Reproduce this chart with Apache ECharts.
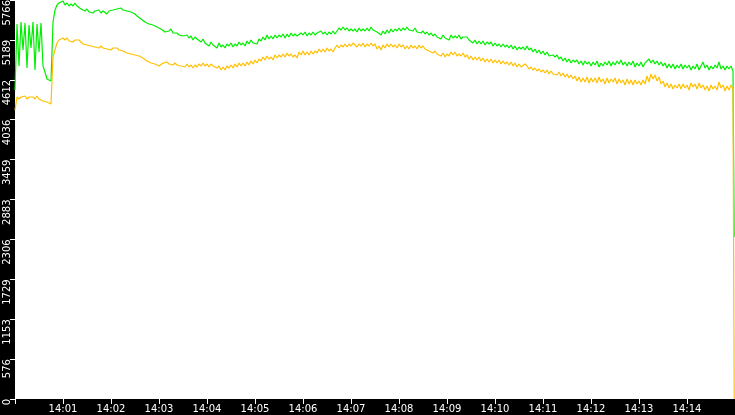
<!DOCTYPE html>
<html>
<head>
<meta charset="UTF-8">
<title>Chart</title>
<script src="https://cdn.jsdelivr.net/npm/echarts@6/dist/echarts.min.js" type="text/javascript"></script>
<style>
    html, body { margin: 0; padding: 0; background: #000; overflow: hidden; }
</style>
</head>
<body>
    <div id="container" style="width: 735px; height: 415px;"></div>
    <script>

    // time in seconds after 14:00:00, one sample every 2.5 s
    var step = 2.5;
    var endTime = 899;

    // tick labels
    var xTickLabels = ['14:01', '14:02', '14:03', '14:04', '14:05', '14:06', '14:07',
                       '14:08', '14:09', '14:10', '14:11', '14:12', '14:13', '14:14'];
    var yTickLabels = ['0', '576', '1153', '1729', '2306', '2883', '3459', '4036', '4612', '5189', '5766'];
    var yMax = 5766;

    // green series
    var greenValues = [
        4465, 5419, 4812, 5448, 5043, 5434, 4783, 5405, 5072, 5448, 4754, 5419, 5014, 5434, 4812, 4725,
        4624, 4610, 4595, 5448, 5621, 5694, 5723, 5737, 5752, 5694, 5723, 5679, 5708, 5679,
        5723, 5679, 5694, 5636, 5650, 5607, 5636, 5593, 5621, 5578, 5607, 5593, 5621, 5578,
        5607, 5593, 5564, 5607, 5593, 5621, 5593, 5636, 5621, 5650, 5621, 5636, 5607, 5621,
        5593, 5578, 5564, 5535, 5535, 5491, 5477, 5448, 5463, 5419, 5434, 5405, 5419, 5376,
        5390, 5347, 5332, 5304, 5332, 5318, 5347, 5289, 5275, 5289, 5260, 5275, 5246, 5260,
        5260, 5217, 5246, 5188, 5231, 5202, 5217, 5159, 5202, 5145, 5173, 5101, 5159, 5116,
        5130, 5072, 5145, 5087, 5116, 5072, 5130, 5101, 5145, 5087, 5130, 5101, 5159, 5116,
        5145, 5101, 5173, 5130, 5188, 5145, 5173, 5130, 5202, 5173, 5231, 5188, 5260, 5202,
        5246, 5202, 5260, 5217, 5260, 5231, 5275, 5217, 5275, 5231, 5289, 5246, 5275, 5246,
        5231, 5289, 5260, 5304, 5246, 5289, 5260, 5304, 5260, 5289, 5275, 5318, 5275, 5304,
        5260, 5304, 5275, 5318, 5275, 5318, 5361, 5332, 5376, 5332, 5361, 5318, 5347, 5318,
        5347, 5304, 5361, 5318, 5347, 5318, 5361, 5318, 5376, 5332, 5347, 5304, 5318, 5260,
        5318, 5275, 5332, 5289, 5347, 5304, 5347, 5318, 5361, 5318, 5361, 5332, 5376, 5332,
        5347, 5318, 5361, 5304, 5332, 5289, 5318, 5275, 5304, 5260, 5289, 5246, 5275, 5231,
        5246, 5202, 5260, 5217, 5231, 5188, 5260, 5217, 5246, 5217, 5260, 5202, 5231, 5217,
        5231, 5188, 5202, 5145, 5188, 5130, 5173, 5130, 5173, 5116, 5159, 5130, 5159, 5101,
        5145, 5101, 5130, 5087, 5130, 5087, 5116, 5072, 5116, 5058, 5101, 5043, 5087, 5058,
        5087, 5043, 5101, 5043, 5072, 5014, 5058, 5000, 5043, 4986, 5029, 4971, 5014, 4957,
        4957, 4971, 4942, 4971, 4913, 4942, 4884, 4928, 4870, 4913, 4856, 4899, 4870, 4899,
        4841, 4884, 4827, 4884, 4841, 4870, 4812, 4870, 4827, 4884, 4798, 4856, 4812, 4870,
        4827, 4884, 4812, 4870, 4827, 4884, 4841, 4899, 4827, 4870, 4812, 4870, 4827, 4884,
        4798, 4856, 4812, 4870, 4798, 4856, 4884, 4913, 4856, 4899, 4841, 4884, 4827, 4870,
        4812, 4856, 4783, 4841, 4783, 4841, 4769, 4827, 4783, 4841, 4769, 4827, 4783, 4827,
        4754, 4812, 4769, 4841, 4754, 4812, 4870, 4783, 4827, 4754, 4812, 4769, 4827, 4783,
        4870, 4769, 4812, 4754, 4812, 4769, 4812, 4740
    ];
    var greenEnd = 2341;

    // orange series
    var orangeValues = [
        4176, 4364, 4335, 4364, 4350, 4379, 4335, 4364, 4350, 4364, 4335, 4379, 4335, 4350, 4306, 4321,
        4292, 4306, 4263, 4942, 5043, 5145, 5188, 5202, 5217, 5188, 5217, 5173, 5188, 5159,
        5188, 5173, 5188, 5159, 5130, 5145, 5116, 5130, 5101, 5116, 5087, 5101, 5072, 5101,
        5072, 5087, 5058, 5072, 5043, 5072, 5058, 5072, 5043, 5058, 5029, 5014, 5000, 5014,
        4986, 5000, 4971, 4986, 4957, 4971, 4928, 4913, 4884, 4899, 4856, 4870, 4841, 4856,
        4812, 4827, 4856, 4841, 4870, 4841, 4856, 4827, 4856, 4827, 4841, 4812, 4827, 4798,
        4841, 4798, 4827, 4783, 4827, 4798, 4841, 4812, 4856, 4812, 4841, 4798, 4841, 4812,
        4827, 4783, 4812, 4754, 4798, 4754, 4812, 4783, 4827, 4783, 4841, 4798, 4856, 4812,
        4856, 4812, 4870, 4827, 4884, 4841, 4899, 4856, 4913, 4884, 4942, 4899, 4957, 4913,
        4942, 4899, 4971, 4928, 4971, 4942, 4986, 4942, 5000, 4957, 4986, 4942, 4971, 4928,
        5014, 4971, 5029, 4971, 5014, 4971, 5029, 4986, 5029, 5000, 5058, 5014, 5058, 5014,
        5072, 5029, 5058, 5014, 5072, 5116, 5072, 5116, 5087, 5130, 5087, 5130, 5101, 5145,
        5145, 5087, 5130, 5101, 5145, 5087, 5130, 5101, 5145, 5101, 5130, 5058, 5101, 5043,
        5116, 5072, 5130, 5087, 5130, 5087, 5116, 5072, 5130, 5087, 5116, 5058, 5101, 5058,
        5116, 5072, 5101, 5058, 5116, 5072, 5101, 5058, 5072, 5029, 5043, 5000, 5029, 4986,
        5000, 4957, 5000, 4942, 4986, 4957, 5014, 4971, 5014, 4957, 4986, 4957, 5000, 4942,
        4971, 4913, 4957, 4899, 4942, 4899, 4942, 4884, 4928, 4870, 4913, 4870, 4913, 4856,
        4899, 4856, 4899, 4841, 4884, 4841, 4870, 4827, 4870, 4812, 4856, 4798, 4841, 4798,
        4798, 4841, 4812, 4769, 4798, 4754, 4783, 4740, 4769, 4725, 4754, 4711, 4754, 4697,
        4740, 4697, 4725, 4682, 4725, 4668, 4711, 4653, 4697, 4639, 4682, 4624, 4668, 4595,
        4653, 4581, 4639, 4581, 4653, 4566, 4639, 4581, 4639, 4566, 4653, 4581, 4624, 4552,
        4639, 4566, 4624, 4581, 4639, 4552, 4624, 4566, 4610, 4538, 4624, 4552, 4610, 4538,
        4610, 4552, 4595, 4538, 4610, 4552, 4668, 4581, 4697, 4624, 4682, 4595, 4653, 4552,
        4595, 4509, 4566, 4494, 4552, 4480, 4538, 4494, 4552, 4480, 4552, 4494, 4538, 4465,
        4566, 4509, 4552, 4480, 4566, 4494, 4538, 4465, 4523, 4451, 4538, 4480, 4523, 4465,
        4581, 4494, 4538, 4451, 4523, 4465, 4538, 4480
    ];
    var orangeEnd = 0;

    function buildSeries(values, endValue) {
        var data = [];
        for (var i = 0; i < values.length; i++) {
            data.push([i * step, values[i]]);
        }
        data.push([endTime, endValue]);
        return data;
    }

    var mychart = echarts.init(document.getElementById("container"));
    var option = {
        animation: false,
        backgroundColor: '#000',
        grid: {
            left: 15, right: 0, top: 0, bottom: 16,
            containLabel: false,
            outerBoundsMode: 'none',
            show: true, backgroundColor: '#fff', borderWidth: 0
        },
        xAxis: {
            type: 'value',
            min: 0,
            max: 900,
            interval: 60,
            splitLine: { show: false },
            axisLine: { show: false },
            axisTick: { show: true, length: 5, lineStyle: { color: '#fff', width: 1 } },
            axisLabel: {
                color: '#fff',
                fontFamily: 'DejaVu Sans',
                fontSize: 10,
                margin: 5,
                formatter: function (v) {
                    var idx = Math.round(v / 60) - 1;
                    return xTickLabels[idx] || '';
                }
            }
        },
        yAxis: {
            type: 'value',
            min: 0,
            max: yMax,
            interval: yMax / 10,
            splitLine: { show: false },
            axisLine: { show: false },
            axisTick: { show: true, length: 5, lineStyle: { color: '#fff', width: 1 } },
            axisLabel: {
                color: '#fff',
                fontFamily: 'DejaVu Sans',
                fontSize: 10,
                rotate: 90,
                align: 'right',
                verticalAlign: 'middle',
                margin: 8,
                formatter: function (v) {
                    return yTickLabels[Math.round(v / (yMax / 10))];
                }
            }
        },
        series: [
            {
                name: 'green',
                type: 'line',
                symbol: 'none',
                lineStyle: { color: '#00ee00', width: 1.2 },
                data: buildSeries(greenValues, greenEnd)
            },
            {
                name: 'orange',
                type: 'line',
                symbol: 'none',
                lineStyle: { color: '#ffc000', width: 1.2 },
                data: buildSeries(orangeValues, orangeEnd)
            }
        ]
    };
    mychart.setOption(option);

    </script>
</body>
</html>
